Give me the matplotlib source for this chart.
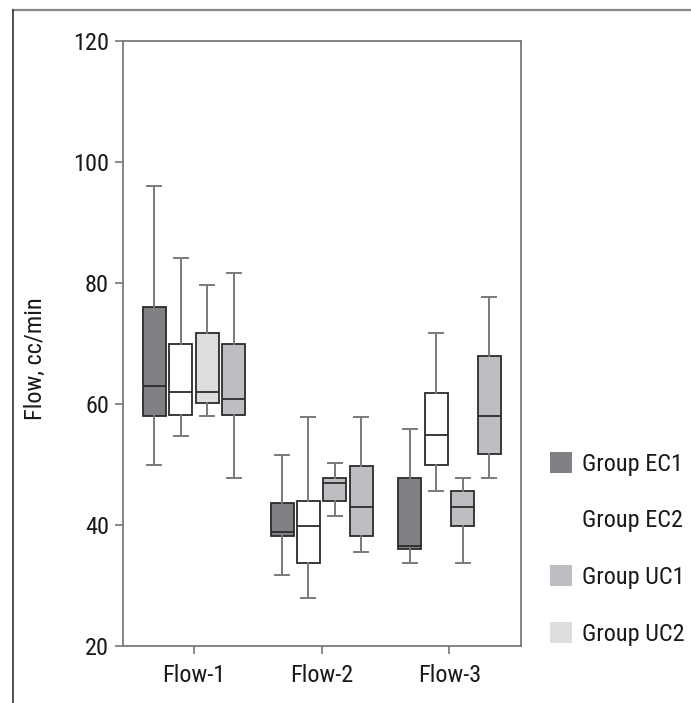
import os
import matplotlib
matplotlib.use("Agg")
import matplotlib.pyplot as plt
from matplotlib.patches import Patch
from matplotlib.lines import Line2D
from matplotlib import font_manager
from matplotlib.font_manager import FontProperties

# ---------------- data ----------------
categories = ["Flow-1", "Flow-2", "Flow-3"]
legend_labels = ["Group EC1", "Group EC2", "Group UC1", "Group UC2"]

# box order within each category: EC1, EC2, third, fourth
ec1_whishi = [96.0, 51.6, 55.9]
ec1_q3 = [76.0, 43.7, 47.7]
ec1_med = [63.0, 38.9, 36.6]
ec1_q1 = [58.0, 38.1, 36.0]
ec1_whislo = [50.0, 31.8, 33.7]

ec2_whishi = [84.1, 57.9, 71.8]
ec2_q3 = [70.0, 44.0, 61.9]
ec2_med = [62.0, 39.8, 54.9]
ec2_q1 = [58.2, 33.7, 50.0]
ec2_whislo = [54.7, 27.9, 45.7]

third_whishi = [79.7, 50.2, 47.8]
third_q3 = [71.8, 47.7, 45.6]
third_med = [62.0, 46.9, 42.9]
third_q1 = [60.1, 44.0, 39.8]
third_whislo = [58.0, 41.5, 33.7]

fourth_whishi = [81.7, 57.9, 77.7]
fourth_q3 = [69.9, 49.7, 67.9]
fourth_med = [60.8, 42.9, 58.0]
fourth_q1 = [58.1, 38.2, 51.8]
fourth_whislo = [47.7, 35.6, 47.8]

yticks = [20, 40, 60, 80, 100, 120]

# ---------------- style ----------------
DARK = "#808185"
WHITE = "#ffffff"
MID = "#bdbec2"
LIGHT = "#dcdddf"
fills = [[DARK, WHITE, LIGHT, MID],
         [DARK, WHITE, MID, MID],
         [DARK, WHITE, MID, MID]]
legend_colors = [DARK, WHITE, MID, LIGHT]


def pick_condensed():
    files = [f.fname for f in font_manager.fontManager.ttflist]
    prefs = ["liberationsansnarrow-regular", "robotocondensed-regular",
             "notosans-condensed.", "opensans_condensed-regular",
             "opensans-condensed.", "opensanscondensed-regular",
             "dejavusanscondensed.", "lato-condensed"]
    for p in prefs:
        for fn in files:
            if os.path.basename(fn).lower().startswith(p):
                return fn, True
    bad = ["bold", "italic", "light", "thin", "black", "medium", "semi",
           "extra", "oblique", "heavy"]
    for fn in files:
        b = os.path.basename(fn).lower()
        if ("condensed" in b or "narrow" in b) and not any(x in b for x in bad):
            return fn, True
    return None, False


fn, cond = pick_condensed()
FS = 17.5 if cond else 13.5
if fn:
    fp = FontProperties(fname=fn, size=FS)
else:
    fp = FontProperties(family=["Liberation Sans", "DejaVu Sans"], size=FS)

W, H = 691, 703
fig = plt.figure(figsize=(W / 100, H / 100), dpi=100)
ax = fig.add_axes([123 / W, 1 - 646 / H, (521 - 123) / W, (646 - 41) / H])

series = [
    (ec1_whislo, ec1_q1, ec1_med, ec1_q3, ec1_whishi),
    (ec2_whislo, ec2_q1, ec2_med, ec2_q3, ec2_whishi),
    (third_whislo, third_q1, third_med, third_q3, third_whishi),
    (fourth_whislo, fourth_q1, fourth_med, fourth_q3, fourth_whishi),
]
offsets = [-1.5, -0.5, 0.5, 1.5]
step = 0.207
bw = 0.18

for ci in range(len(categories)):
    for si, (lo, q1, med, q3, hi) in enumerate(series):
        stats = [dict(whislo=lo[ci], q1=q1[ci], med=med[ci], q3=q3[ci],
                      whishi=hi[ci], fliers=[])]
        pos = ci + 1 + offsets[si] * step
        ax.bxp(stats, positions=[pos], widths=bw, capwidths=0.11,
               patch_artist=True, showfliers=False, manage_ticks=False,
               boxprops=dict(facecolor=fills[ci][si], edgecolor="#2b2b2b", linewidth=1.3),
               medianprops=dict(color="#2b2b2b", linewidth=1.3),
               whiskerprops=dict(color="#7a7a7a", linewidth=1.4),
               capprops=dict(color="#7a7a7a", linewidth=1.4))

ax.set_xlim(0.445, 3.56)
ax.set_ylim(20, 120)
ax.set_xticks([1, 2, 3])
ax.set_xticklabels(categories)
ax.set_yticks(yticks)
ax.set_yticklabels([str(v) for v in yticks])
for lbl in ax.get_xticklabels() + ax.get_yticklabels():
    lbl.set_fontproperties(fp)
    lbl.set_color("#1a1a1a")
ax.tick_params(axis="both", direction="out", length=6, width=1.2, color="#777777", pad=4)
ax.tick_params(axis="x", pad=7)
for sp in ax.spines.values():
    sp.set_color("#7a7a7a")
    sp.set_linewidth(1.3)
ax.set_ylabel("Flow, cc/min", fontproperties=fp, color="#1a1a1a")
ax.yaxis.set_label_coords(-0.19, 0.475)

handles = [Patch(facecolor=c, edgecolor="none") for c in legend_colors]
leg = fig.legend(handles, legend_labels, loc="upper left",
                 bbox_to_anchor=(550 / W, 1 - 452 / H), bbox_transform=fig.transFigure,
                 frameon=False, prop=fp, handlelength=0.9, handleheight=0.95,
                 handletextpad=0.4, labelspacing=1.35, borderpad=0, borderaxespad=0)
for t in leg.get_texts():
    t.set_color("#1a1a1a")

# outer frame lines
fig.add_artist(Line2D([13 / W, 1], [1 - 10 / H, 1 - 10 / H], transform=fig.transFigure,
                      color="#8a8a8a", linewidth=1.6))
fig.add_artist(Line2D([13 / W, 13 / W], [0, 1 - 10 / H], transform=fig.transFigure,
                      color="#333333", linewidth=1.2))

fig.savefig("out.png", dpi=100)
